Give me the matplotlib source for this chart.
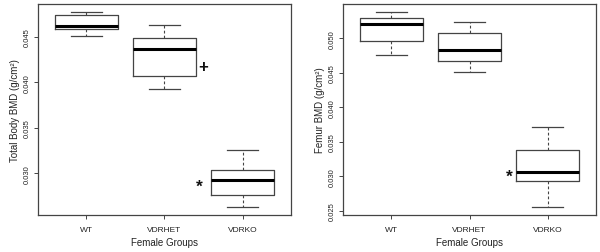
import matplotlib
matplotlib.use("Agg")
import matplotlib.pyplot as plt

plt.rcParams['font.family'] = ['Liberation Sans', 'DejaVu Sans']

groups = ["WT", "VDRHET", "VDRKO"]

# Total body BMD: whisker low, Q1, median, Q3, whisker high
tb_low = [0.04504, 0.03929, 0.02627]
tb_q1 = [0.04581, 0.04068, 0.02764]
tb_med = [0.04613, 0.04366, 0.02925]
tb_q3 = [0.04737, 0.04483, 0.03037]
tb_high = [0.04773, 0.04628, 0.03255]
tb_ticks = [0.030, 0.035, 0.040, 0.045]

# Femur BMD
fe_low = [0.04756, 0.04506, 0.02552]
fe_q1 = [0.04957, 0.04670, 0.02925]
fe_med = [0.05205, 0.04836, 0.03055]
fe_q3 = [0.05287, 0.05072, 0.03376]
fe_high = [0.05382, 0.05234, 0.03707]
fe_ticks = [0.025, 0.030, 0.035, 0.040, 0.045, 0.050]

# significance marks: (symbol, group position offset, value)
tb_marks = [("+", 2.50, 0.04191), ("*", 2.45, 0.02903)]
fe_marks = [("*", 2.51, 0.03055)]

fig = plt.figure(figsize=(6.0, 2.53), dpi=100)
ax1 = fig.add_axes([0.0633, 0.1462, 0.4217, 0.834])
ax2 = fig.add_axes([0.5717, 0.1462, 0.4216, 0.834])

frame_col = "#444444"

def draw(ax, low, q1, med, q3, high, ticks, ylabel, marks):
    stats = []
    for i, g in enumerate(groups):
        stats.append(dict(label=g, whislo=low[i], q1=q1[i], med=med[i],
                          q3=q3[i], whishi=high[i], fliers=[]))
    ax.bxp(stats, positions=[1, 2, 3], widths=0.8, showfliers=False,
           boxprops=dict(color=frame_col, linewidth=0.9),
           medianprops=dict(color="black", linewidth=2.2),
           whiskerprops=dict(color=frame_col, linewidth=0.8, linestyle=(0, (2.5, 2))),
           capprops=dict(color=frame_col, linewidth=0.9),
           capwidths=0.4)
    lo = min(low); hi = max(high); r = hi - lo
    ax.set_ylim(lo - 0.04 * r, hi + 0.04 * r)
    ax.set_xlim(0.38, 3.62)
    ax.set_yticks(ticks)
    ax.set_yticklabels(["%.3f" % t for t in ticks], rotation=90, va="center",
                       fontsize=5.5, color="#222222")
    ax.set_xticks([1, 2, 3])
    ax.set_xticklabels(groups, fontsize=6, color="#222222")
    ax.tick_params(axis="both", length=3, width=0.7, color=frame_col, pad=2)
    ax.tick_params(axis="x", pad=5)
    for s in ax.spines.values():
        s.set_color(frame_col)
        s.set_linewidth(0.9)
    ax.set_xlabel("Female Groups", fontsize=7, labelpad=3, color="#222222")
    ax.set_ylabel(ylabel, fontsize=7, labelpad=3, color="#222222")
    for sym, x, y in marks:
        if sym == "+":
            ax.text(x, y, sym, fontsize=12, fontweight="bold", ha="center",
                    va="center_baseline", color="#111111")
        else:
            ax.annotate(sym, (x, y), xytext=(0, -3), textcoords="offset points",
                        fontsize=12.5, fontweight="bold", ha="center",
                        va="center", color="#111111")

draw(ax1, tb_low, tb_q1, tb_med, tb_q3, tb_high, tb_ticks,
     "Total Body BMD (g/cm²)", tb_marks)
draw(ax2, fe_low, fe_q1, fe_med, fe_q3, fe_high, fe_ticks,
     "Femur BMD (g/cm²)", fe_marks)

fig.savefig("out.png", dpi=100)
